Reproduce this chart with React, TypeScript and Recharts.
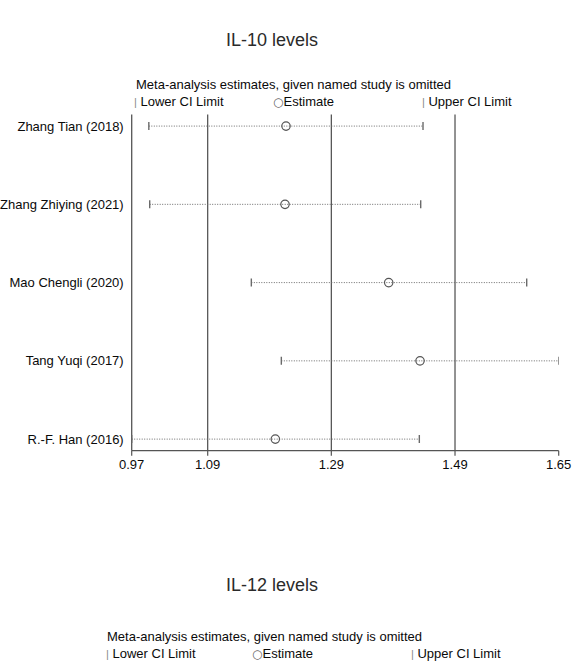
import React from "react";
import {
  ScatterChart,
  Scatter,
  XAxis,
  YAxis,
  ReferenceLine,
} from "recharts";

// ---- data (IL-10 levels, leave-one-out sensitivity analysis) ----
const studies = [
  "Zhang Tian (2018)",
  "Zhang Zhiying (2021)",
  "Mao Chengli (2020)",
  "Tang Yuqi (2017)",
  "R.-F. Han (2016)",
];
const estimates = [1.2175, 1.2159, 1.3818, 1.4319, 1.2004];
const lowerCI = [0.998, 0.9994, 1.162, 1.21, 0.9706];
const upperCI = [1.4367, 1.433, 1.6026, 1.6538, 1.4308];

const overallLower = 1.0922;
const overallEstimate = 1.29;
const overallUpper = 1.4879;

const xTicks = [0.9706, 1.0922, 1.29, 1.4879, 1.6538];
const rowIndex = [1, 2, 3, 4, 5];

const titleTop = "IL-10 levels";
const titleBottom = "IL-12 levels";
const subtitle = "Meta-analysis estimates, given named study is omitted";
const legendLabels = ["Lower CI Limit", "Estimate", "Upper CI Limit"];

const FONT = "'Liberation Sans', Arial, Helvetica, sans-serif";
const TEXT = "#0a0a0a";

const estData = estimates.map((v, i) => ({ x: v, y: rowIndex[i] }));
const lowData = lowerCI.map((v, i) => ({ x: v, y: rowIndex[i] }));
const upData = upperCI.map((v, i) => ({ x: v, y: rowIndex[i] }));

const CapShape = (props: any) => {
  const { cx, cy } = props;
  if (cx == null || cy == null) return null;
  return (
    <line
      x1={cx}
      x2={cx}
      y1={cy - 4}
      y2={cy + 4}
      stroke="#6a6a6a"
      strokeWidth={1.4}
    />
  );
};

const CircleShape = (props: any) => {
  const { cx, cy } = props;
  if (cx == null || cy == null) return null;
  return <circle cx={cx} cy={cy} r={4.2} fill="none" stroke="#555" strokeWidth={1.2} />;
};

const YTick = (props: any) => {
  const { x, y, payload } = props;
  return (
    <text
      x={x}
      y={y}
      dy="0.355em"
      textAnchor="end"
      fontFamily={FONT}
      fontSize={13}
      fill={TEXT}
    >
      {studies[payload.value - 1] ?? ""}
    </text>
  );
};

const XTick = (props: any) => {
  const { x, y, payload } = props;
  return (
    <text
      x={x}
      y={y}
      dy="0.71em"
      textAnchor="middle"
      fontFamily={FONT}
      fontSize={13}
      fill={TEXT}
    >
      {Number(payload.value).toFixed(2)}
    </text>
  );
};

function LegendBlock({ x0, y, xs }: { x0: number; y: number; xs: number[] }) {
  return (
    <g fontFamily={FONT} fontSize={13} fill={TEXT}>
      <text x={x0} y={y}>
        {subtitle}
      </text>
      <text x={xs[0]} y={y + 17}>
        <tspan fill="#888" fontSize={11}>|</tspan>
        <tspan> {legendLabels[0]}</tspan>
      </text>
      <text x={xs[1]} y={y + 17}>
        <tspan fill="#666" fontSize={12} fontFamily="'DejaVu Sans', sans-serif">○</tspan>
        <tspan>{legendLabels[1]}</tspan>
      </text>
      <text x={xs[2]} y={y + 17}>
        <tspan fill="#888" fontSize={11}>|</tspan>
        <tspan> {legendLabels[2]}</tspan>
      </text>
    </g>
  );
}

export default function App() {
  return (
    <div
      style={{
        position: "absolute",
        left: 0,
        top: 0,
        width: 572,
        height: 662,
        overflow: "hidden",
        background: "#fff",
      }}
    >
      <svg
        width={572}
        height={662}
        style={{ position: "absolute", left: 0, top: 0 }}
      >
        <text
          x={272}
          y={45.5}
          textAnchor="middle"
          fontFamily={FONT}
          fontSize={18}
          fill="#2a2a2a"
        >
          {titleTop}
        </text>
        <LegendBlock x0={136} y={88.6} xs={[134, 273, 422]} />

        <text
          x={272}
          y={590.5}
          textAnchor="middle"
          fontFamily={FONT}
          fontSize={18}
          fill="#2a2a2a"
        >
          {titleBottom}
        </text>
        <LegendBlock x0={107} y={640.6} xs={[106, 252, 411]} />
      </svg>

      <div style={{ position: "absolute", left: 0, top: 0 }}>
        <ScatterChart
          width={572}
          height={490}
          margin={{ top: 114.5, right: 13.3, left: 0, bottom: 0 }}
          style={{ overflow: "visible" }}
        >
          <XAxis
            type="number"
            dataKey="x"
            domain={[xTicks[0], xTicks[xTicks.length - 1]]}
            ticks={xTicks}
            interval={0}
            allowDataOverflow
            height={39.3}
            tickSize={5}
            tickMargin={4}
            stroke="#555"
            axisLine={{ stroke: "#555", strokeWidth: 1.3 }}
            tickLine={{ stroke: "#555", strokeWidth: 1.2 }}
            tick={XTick}
          />
          <YAxis
            type="number"
            dataKey="y"
            domain={[0.852, 5.148]}
            reversed
            ticks={rowIndex}
            interval={0}
            allowDataOverflow
            width={131.7}
            tickLine={false}
            axisLine={{ stroke: "#555", strokeWidth: 1.3 }}
            tick={YTick}
          />
          <ReferenceLine x={overallLower} stroke="#4a4a4a" strokeWidth={1.2} ifOverflow="visible" />
          <ReferenceLine x={overallEstimate} stroke="#4a4a4a" strokeWidth={1.2} ifOverflow="visible" />
          <ReferenceLine x={overallUpper} stroke="#4a4a4a" strokeWidth={1.2} ifOverflow="visible" />
          {rowIndex.map((r, i) => (
            <ReferenceLine
              key={studies[i]}
              segment={[
                { x: lowerCI[i], y: r },
                { x: upperCI[i], y: r },
              ]}
              stroke="#6a6a6a"
              strokeWidth={1}
              strokeDasharray="1 1.5"
              ifOverflow="visible"
            />
          ))}
          <Scatter data={lowData} shape={CapShape} isAnimationActive={false} />
          <Scatter data={upData} shape={CapShape} isAnimationActive={false} />
          <Scatter data={estData} shape={CircleShape} isAnimationActive={false} />
        </ScatterChart>
      </div>
    </div>
  );
}
